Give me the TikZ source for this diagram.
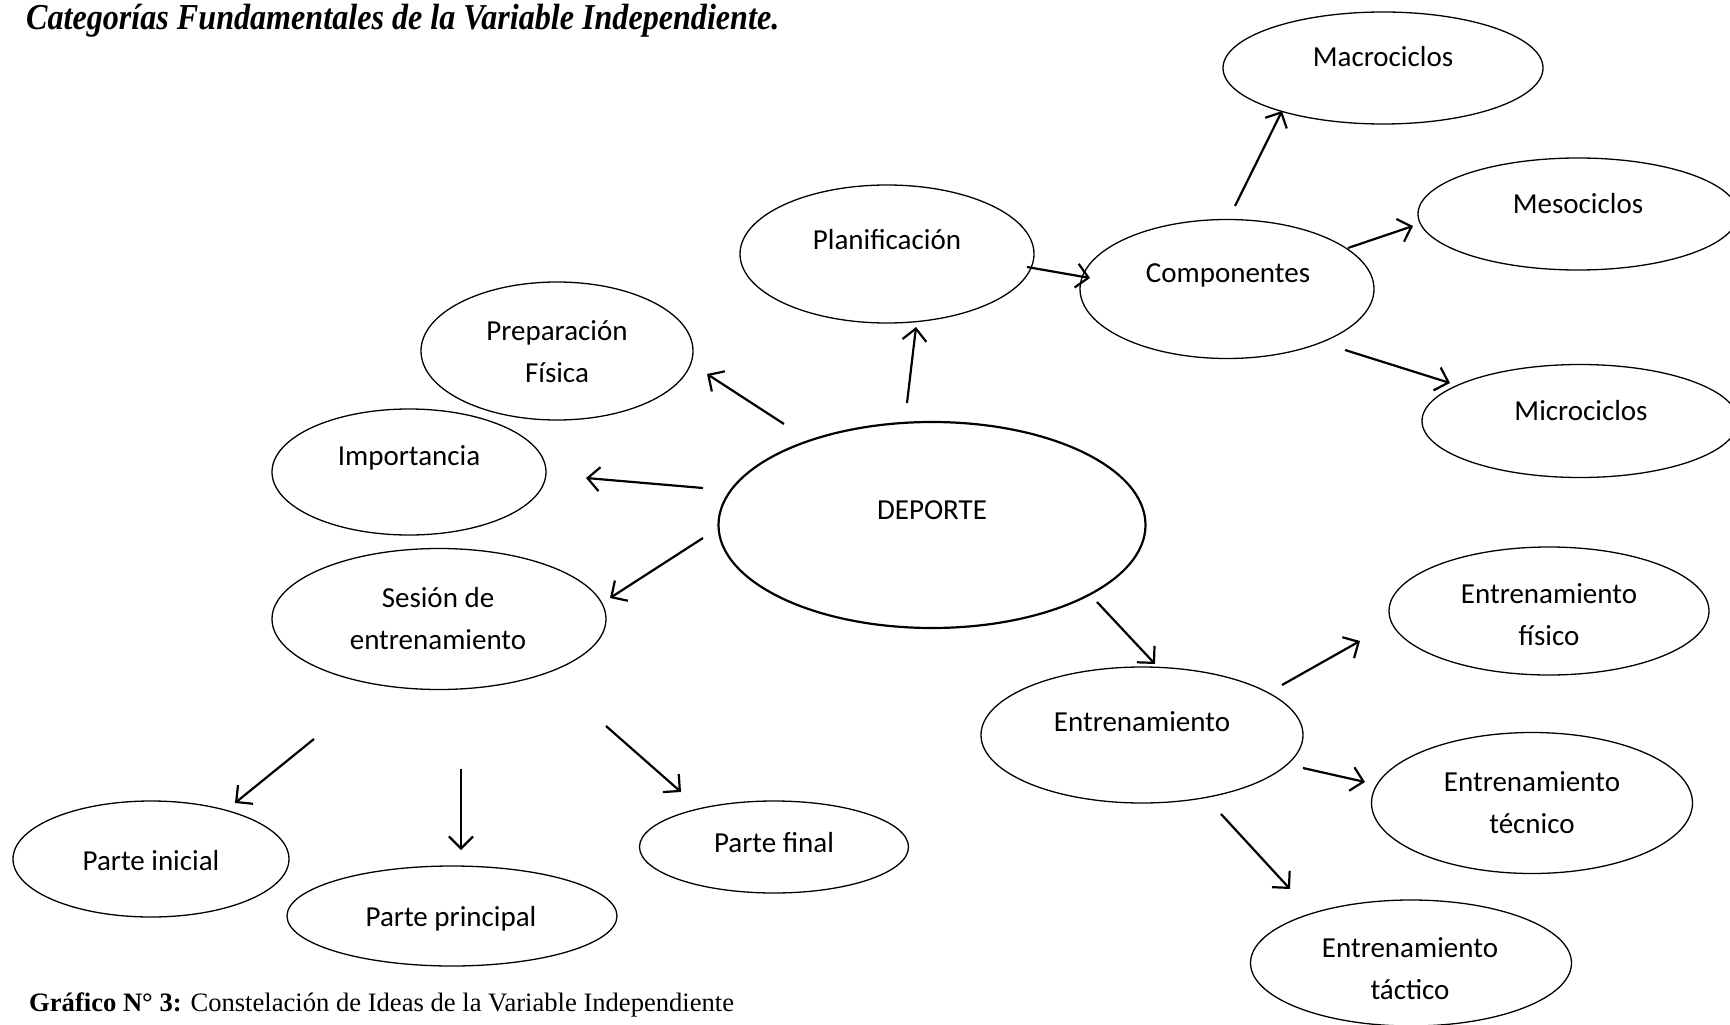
\documentclass[tikz,border=0pt]{standalone}
\usepackage{fontspec}
\setmainfont{Liberation Serif}
\newfontfamily\calib{Carlito}
\newfontfamily\condserif[FakeStretch=0.88]{Liberation Serif}
\usetikzlibrary{shapes.geometric,arrows.meta}
\begin{document}
\begin{tikzpicture}[x=1pt,y=-1pt,
  oval/.style={draw, ellipse, line width=1.3pt, inner sep=0pt},
  lbl/.style={font=\calib\fontsize{29}{42}\selectfont, align=center, inner sep=0pt},
  arr/.style={line width=2.2pt, -{Straight Barb[length=12pt,width=24pt]}}]
\useasboundingbox (0,0) rectangle (1730,1025);
\fill[white] (0,0) rectangle (1730,1025);

% title and caption
\node[anchor=base west, inner sep=0pt, font=\condserif\bfseries\itshape\fontsize{36.5}{42}\selectfont] (title) at (26,30) {Categorías Fundamentales de la Variable Independiente.};
\node[anchor=base west, inner sep=0pt, font=\fontsize{26.6}{30}\selectfont] (caption) at (29,1011) {\textbf{Gráfico N° 3:} Constelación de Ideas de la Variable Independiente};

% ellipses
\node[oval, line width=2.2pt, minimum width=427, minimum height=206] (dep) at (932,525) {};
\node[oval, minimum width=294, minimum height=138] (plan) at (887,254) {};
\node[oval, minimum width=294, minimum height=139] (comp) at (1227,289) {};
\node[oval, minimum width=320, minimum height=112] (macro) at (1383,68) {};
\node[oval, minimum width=320, minimum height=112] (meso) at (1578,214) {};
\node[oval, minimum width=316, minimum height=113] (micro) at (1580,421) {};
\node[oval, minimum width=272, minimum height=138] (prep) at (557,351) {};
\node[oval, minimum width=274, minimum height=126] (imp) at (409,472) {};
\node[oval, minimum width=334, minimum height=141] (ses) at (439,619) {};
\node[oval, minimum width=276, minimum height=116] (pini) at (151,859) {};
\node[oval, minimum width=330, minimum height=100] (pprin) at (452,916) {};
\node[oval, minimum width=269, minimum height=92] (pfin) at (774,847) {};
\node[oval, minimum width=322, minimum height=136] (ent) at (1142,735) {};
\node[oval, minimum width=320, minimum height=128] (efis) at (1549,611) {};
\node[oval, minimum width=321, minimum height=141] (etec) at (1532,803) {};
\node[oval, minimum width=321, minimum height=126] (etac) at (1411,963) {};

% texts
\node[lbl] (depT) at (932,510) {DEPORTE};
\node[lbl] (planT) at (887,240) {Planificación};
\node[lbl] (compT) at (1228,275) {Componentes};
\node[lbl] (macroT) at (1383,57) {Macrociclos};
\node[lbl] (mesoT) at (1578,204) {Mesociclos};
\node[lbl] (microT) at (1581,411) {Microciclos};
\node[lbl] (prepT) at (557,352) {Preparación\\Física};
\node[lbl] (impT) at (409,458) {Importancia};
\node[lbl] (sesT) at (438,619) {Sesión de\\entrenamiento};
\node[lbl] (piniT) at (151,861) {Parte inicial};
\node[lbl] (pprinT) at (451,919) {Parte principal};
\node[lbl] (pfinT) at (774,843) {Parte final};
\node[lbl] (entT) at (1142,722) {Entrenamiento};
\node[lbl] (efisT) at (1549,615) {Entrenamiento\\físico};
\node[lbl] (etecT) at (1532,803) {Entrenamiento\\técnico};
\node[lbl] (etacT) at (1410,969) {Entrenamiento\\táctico};

% arrow end points
\coordinate (a1s) at (907,403);  \coordinate (a1e) at (916,327);
\coordinate (a2s) at (1027,267); \coordinate (a2e) at (1090,278);
\coordinate (a3s) at (1235,206); \coordinate (a3e) at (1282,111);
\coordinate (a4s) at (1348,248); \coordinate (a4e) at (1413,226);
\coordinate (a5s) at (1345,350); \coordinate (a5e) at (1450,383);
\coordinate (a6s) at (784,424);  \coordinate (a6e) at (707,374);
\coordinate (a7s) at (703,488);  \coordinate (a7e) at (586,478);
\coordinate (a8s) at (703,538);  \coordinate (a8e) at (610,598);
\coordinate (a9s) at (1097,602); \coordinate (a9e) at (1155,664);
\coordinate (b1s) at (1282,685); \coordinate (b1e) at (1360,641);
\coordinate (b2s) at (1303,768); \coordinate (b2e) at (1365,782);
\coordinate (b3s) at (1221,814); \coordinate (b3e) at (1290,889);
\coordinate (c1s) at (314,739);  \coordinate (c1e) at (235,803);
\coordinate (c2s) at (461,769);  \coordinate (c2e) at (461,850);
\coordinate (c3s) at (606,726);  \coordinate (c3e) at (681,792);

\foreach \s in {a1,a2,a3,a4,a5,a6,a7,a8,a9,b1,b2,b3,c1,c2,c3}
  \draw[arr] (\s s) -- (\s e);
\end{tikzpicture}
\end{document}
